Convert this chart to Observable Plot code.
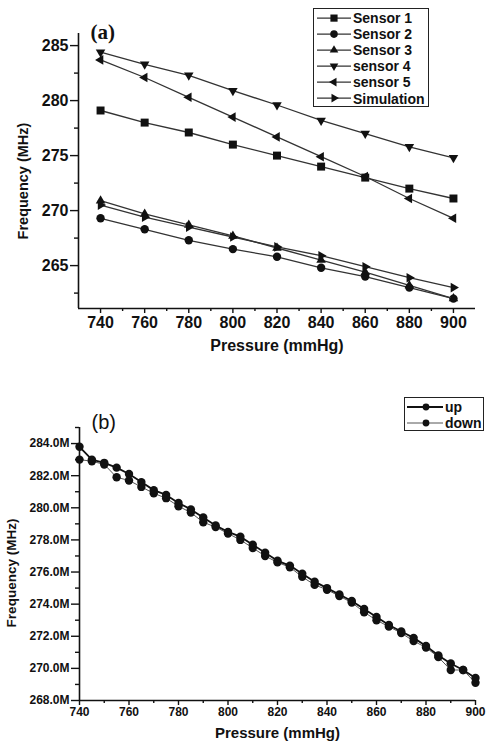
<!DOCTYPE html>
<html><head><meta charset="utf-8">
<script src="https://cdn.jsdelivr.net/npm/d3@7"></script>
<script src="https://cdn.jsdelivr.net/npm/@observablehq/plot@0.6"></script>
<style>
body{margin:0;background:#fff;}
#fig{position:relative;width:486px;height:741px;font-family:"Liberation Sans",Arial,sans-serif;color:#111;}
#fig > svg{display:block;}
.lg{position:absolute;border:1.5px solid #222;background:#fff;box-sizing:border-box;}
.row{display:flex;align-items:center;white-space:nowrap;font-weight:bold;}
.row svg{flex:none;}
</style></head><body><div id="fig"></div>
<script>
// ---------- Panel (a) data ----------
const pressureA = [740, 760, 780, 800, 820, 840, 860, 880, 900];
const seriesNamesA = ["Sensor 1", "Sensor 2", "Sensor 3", "sensor 4", "sensor 5", "Simulation"];
const sensor1 = [279.1, 278.0, 277.1, 276.0, 275.0, 274.0, 273.0, 272.0, 271.1];
const sensor2 = [269.3, 268.3, 267.3, 266.5, 265.8, 264.8, 264.0, 263.0, 262.0];
const sensor3 = [270.9, 269.7, 268.7, 267.7, 266.6, 265.5, 264.4, 263.2, 262.0];
const sensor4 = [284.4, 283.3, 282.3, 280.9, 279.6, 278.2, 277.0, 275.8, 274.8];
const sensor5 = [283.7, 282.1, 280.3, 278.5, 276.7, 274.9, 273.1, 271.1, 269.3];
const simulation = [270.5, 269.4, 268.5, 267.6, 266.7, 265.9, 264.9, 263.9, 263.0];
const xTicksA = [740, 760, 780, 800, 820, 840, 860, 880, 900];
const xMinorA = [750, 770, 790, 810, 830, 850, 870, 890];
const yTicksA = [265, 270, 275, 280, 285];
const yMinorA = [262.5, 267.5, 272.5, 277.5, 282.5];
const xDomainA = [730, 910];
const yDomainA = [261.1, 286.1];

// ---------- Panel (b) data ----------
const pressureB = [740, 745, 750, 755, 760, 765, 770, 775, 780, 785, 790, 795, 800, 805, 810, 815, 820,
  825, 830, 835, 840, 845, 850, 855, 860, 865, 870, 875, 880, 885, 890, 895, 900];
const upB = [283.8, 283.0, 282.8, 282.5, 282.1, 281.6, 281.1, 280.8, 280.3, 279.9, 279.4, 278.9, 278.5,
  278.2, 277.7, 277.2, 276.7, 276.4, 275.9, 275.4, 275.0, 274.6, 274.2, 273.7, 273.2, 272.7, 272.3,
  271.9, 271.4, 270.8, 270.3, 269.9, 269.4];
const downB = [283.0, 282.9, 282.7, 281.9, 281.7, 281.3, 280.9, 280.6, 280.1, 279.7, 279.1, 278.8, 278.4,
  278.0, 277.5, 277.0, 276.6, 276.3, 275.7, 275.2, 274.9, 274.5, 274.1, 273.5, 273.0, 272.6, 272.2,
  271.7, 271.3, 270.7, 269.9, 269.9, 269.1];
const seriesNamesB = ["up", "down"];
const xTicksB = [740, 760, 780, 800, 820, 840, 860, 880, 900];
const xMinorB = [750, 770, 790, 810, 830, 850, 870, 890];
const yTicksB = [268, 270, 272, 274, 276, 278, 280, 282, 284];
const yMinorB = [269, 271, 273, 275, 277, 279, 281, 283, 285];
const xDomainB = [740, 900];
const yDomainB = [268, 285];

// ---------- symbols ----------
function tri(angle) {
  return {draw(ctx, size) {
    const R = Math.sqrt(size / Math.PI) * 1.2;
    for (let i = 0; i < 3; i++) {
      const a = (angle + i * 120) * Math.PI / 180;
      const x = R * Math.cos(a), y = R * Math.sin(a);
      if (i) ctx.lineTo(x, y); else ctx.moveTo(x, y);
    }
    ctx.closePath();
  }};
}
const symbolsA = [d3.symbolSquare, d3.symbolCircle, tri(-90), tri(90), tri(180), tri(0)];
const radiiA = [4.5, 4.2, 4.6, 4.6, 4.6, 4.6];
const valuesA = [sensor1, sensor2, sensor3, sensor4, sensor5, simulation];

const rowsA = seriesNamesA.flatMap((name, i) => pressureA.map((p, j) => ({series: name, p, f: valuesA[i][j]})));
const rowsB = [
  ...pressureB.map((p, j) => ({series: "up", p, f: upB[j]})),
  ...pressureB.map((p, j) => ({series: "down", p, f: downB[j]}))
];

const ink = "#111";
const fig = document.getElementById("fig");

// ---------- Plot (a) ----------
const marksA = [];
seriesNamesA.forEach((name, i) => {
  const data = rowsA.filter(d => d.series === name);
  marksA.push(Plot.line(data, {x: "p", y: "f", stroke: "#333", strokeWidth: 1.3}));
  marksA.push(Plot.dot(data, {x: "p", y: "f", symbol: symbolsA[i], r: radiiA[i], fill: ink, stroke: "none"}));
});
const plotA = Plot.plot({
  width: 486, height: 370,
  marginLeft: 78, marginRight: 11, marginTop: 33, marginBottom: 62,
  x: {domain: xDomainA}, y: {domain: yDomainA},
  style: {fontFamily: "'Liberation Sans', Arial, sans-serif", fontSize: "16px", fontWeight: "bold", color: ink, background: "transparent", overflow: "visible"},
  marks: [
    Plot.ruleX([xDomainA[0]], {stroke: ink, strokeWidth: 1.6}),
    Plot.ruleY([yDomainA[0]], {stroke: ink, strokeWidth: 1.6}),
    Plot.axisX({ticks: xTicksA, tickSize: 5, tickPadding: 3, strokeWidth: 1.4, label: null, tickFormat: d => d}),
    Plot.axisX({ticks: xMinorA, tickSize: 3, strokeWidth: 1.4, label: null, tickFormat: () => ""}),
    Plot.axisY({ticks: yTicksA, tickSize: 8, tickPadding: 2, strokeWidth: 1.4, label: null, tickFormat: d => d}),
    Plot.axisY({ticks: yMinorA, tickSize: 4, strokeWidth: 1.4, label: null, tickFormat: () => ""}),
    ...marksA,
    Plot.text(["Pressure (mmHg)"], {frameAnchor: "bottom", dy: 37, lineAnchor: "middle", textAnchor: "middle", fontSize: 16}),
    Plot.text(["Frequency (MHz)"], {frameAnchor: "left", rotate: -90, dx: -55, dy: 10, lineAnchor: "middle", textAnchor: "middle", fontSize: 14.5}),
    Plot.text(["(a)"], {frameAnchor: "top-left", dx: 12, dy: -1, textAnchor: "start", lineAnchor: "middle", fontSize: 21, fontWeight: "bold", fontFamily: "'Liberation Serif', 'Times New Roman', serif"})
  ]
});
fig.appendChild(plotA);

// ---------- Plot (b) ----------
const plotB = Plot.plot({
  width: 486, height: 371,
  marginLeft: 79, marginRight: 11, marginTop: 57, marginBottom: 41,
  x: {domain: xDomainB}, y: {domain: yDomainB},
  style: {fontFamily: "'Liberation Sans', Arial, sans-serif", fontSize: "12px", fontWeight: "bold", color: ink, background: "transparent", overflow: "visible"},
  marks: [
    Plot.ruleX([xDomainB[0]], {stroke: ink, strokeWidth: 1.6}),
    Plot.ruleY([yDomainB[0]], {stroke: ink, strokeWidth: 1.6}),
    Plot.axisX({ticks: xTicksB, tickSize: 5, tickPadding: 2, strokeWidth: 1.4, label: null, tickFormat: d => d, fontSize: 12}),
    Plot.axisX({ticks: xMinorB, tickSize: 3, strokeWidth: 1.4, label: null, tickFormat: () => ""}),
    Plot.axisY({ticks: yTicksB, tickSize: 8, tickPadding: 2, strokeWidth: 1.4, label: null, tickFormat: d => d.toFixed(1) + "M"}),
    Plot.axisY({ticks: yMinorB, tickSize: 4, strokeWidth: 1.4, label: null, tickFormat: () => ""}),
    Plot.line(rowsB.filter(d => d.series === "down"), {x: "p", y: "f", stroke: "#555", strokeWidth: 1}),
    Plot.line(rowsB.filter(d => d.series === "up"), {x: "p", y: "f", stroke: ink, strokeWidth: 1.8}),
    Plot.dot(rowsB.filter(d => d.series === "down"), {x: "p", y: "f", symbol: "circle", r: 4.2, fill: ink}),
    Plot.dot(rowsB.filter(d => d.series === "up"), {x: "p", y: "f", symbol: "circle", r: 4.2, fill: ink}),
    Plot.text(["Pressure (mmHg)"], {frameAnchor: "bottom", dy: 33, lineAnchor: "middle", textAnchor: "middle", fontSize: 15}),
    Plot.text(["Frequency (MHz)"], {frameAnchor: "left", rotate: -90, dx: -68, dy: 9, lineAnchor: "middle", textAnchor: "middle", fontSize: 13.5}),
    Plot.text(["(b)"], {frameAnchor: "top-left", dx: 12, dy: -5, textAnchor: "start", lineAnchor: "middle", fontSize: 20, fontWeight: "normal"})
  ]
});
fig.appendChild(plotB);

// ---------- legends ----------
function legendRow(sym, r, lineW, lineColor, label, w, h, mx, fontSize) {
  const row = document.createElement("div");
  row.className = "row";
  row.style.height = h + "px";
  row.style.fontSize = fontSize + "px";
  const path = d3.symbol(sym, Math.PI * r * r)();
  row.innerHTML = `<svg width="${w}" height="${h}"><line x1="1" x2="${w - 2}" y1="${h / 2}" y2="${h / 2}" stroke="${lineColor}" stroke-width="${lineW}"/>` +
    `<path d="${path}" transform="translate(${mx},${h / 2})" fill="${ink}"/></svg><span>${label}</span>`;
  return row;
}
const lgA = document.createElement("div");
lgA.className = "lg";
Object.assign(lgA.style, {left: "313px", top: "8px", width: "116px", height: "99px", padding: "0.5px 0 0 2px"});
seriesNamesA.forEach((name, i) => lgA.appendChild(legendRow(symbolsA[i], radiiA[i] * 0.9, 1.3, "#333", name, 37, 16.2, 18, 14)));
fig.appendChild(lgA);

const lgB = document.createElement("div");
lgB.className = "lg";
Object.assign(lgB.style, {left: "404px", top: "397px", width: "80px", height: "34px", padding: "0.5px 0 0 1px"});
lgB.appendChild(legendRow(d3.symbolCircle, 3.4, 1.8, ink, "up", 39, 16, 20, 14));
lgB.appendChild(legendRow(d3.symbolCircle, 3.4, 1, "#555", "down", 39, 16, 20, 14));
fig.appendChild(lgB);
</script>
</body></html>
